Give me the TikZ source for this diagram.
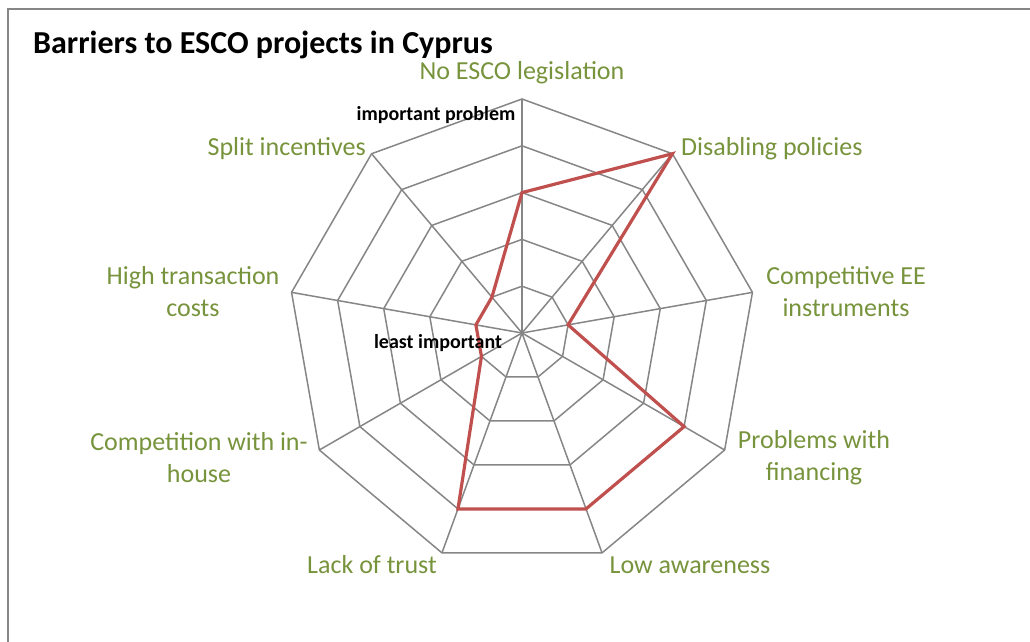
\documentclass[tikz,border=0pt]{standalone}
\usepackage{fontspec}
\setmainfont{Carlito}
\definecolor{gridgray}{RGB}{134,134,134}
\definecolor{seriesred}{RGB}{192,80,77}
\definecolor{labelgreen}{RGB}{119,147,60}
\tikzset{
  axislabel/.style={text=labelgreen,font=\fontsize{26}{32}\selectfont,align=center,inner sep=0pt},
  levellabel/.style={font=\bfseries\fontsize{20}{24}\selectfont,inner sep=0pt},
}
\begin{document}
\begin{tikzpicture}[x=1pt,y=1pt]
      \def\r{234};
      \useasboundingbox (-522,-309) rectangle (508,333);
      \draw[gridgray,line width=1.5pt] (-514,-309) -- (-514,324) -- (508,324);
      % spokes and rings
      \foreach \k in {0,...,8}
        \coordinate (v\k) at ({90-40*\k}:\r);
      \foreach \k in {0,...,8}
        \draw[gridgray,line width=1.5pt] (0,0) -- (v\k);
      \foreach \l in {1,...,5}
        \draw[gridgray,line width=1.5pt] (90:{\r*\l/5}) \foreach \k in {1,...,8} {-- ({90-40*\k}:{\r*\l/5})} -- cycle;
      % series
      \draw[seriesred,line width=3.2pt] (90:{\r*3/5}) -- (50:\r) -- (10:{\r/5}) -- (-30:{\r*4/5}) -- (-70:{\r*4/5})
        -- (-110:{\r*4/5}) -- (-150:{\r/5}) -- (-190:{\r/5}) -- (-230:{\r/5}) -- cycle;
      \node[anchor=west,font=\bfseries\fontsize{32}{38}\selectfont,inner sep=0pt] (title) at (-489,288) {Barriers to ESCO projects in Cyprus};
      \node[axislabel] (legislation) at (0,260) {No ESCO legislation};
      \node[axislabel,anchor=west] (policies) at (159,184) {Disabling policies};
      \node[axislabel] (instruments) at (324,41) {Competitive EE\\instruments};
      \node[axislabel] (financing) at (292,-125) {Problems with\\financing};
      \node[axislabel] (awareness) at (168,-232) {Low awareness};
      \node[axislabel] (trust) at (-150,-232) {Lack of trust};
      \node[axislabel] (inhouse) at (-323,-125) {Competition with in-\\house};
      \node[axislabel] (transaction) at (-329,41) {High transaction\\costs};
      \node[axislabel,anchor=east] (incentives) at (-156,184) {Split incentives};
      \node[levellabel] (important) at (-86,218) {important problem};
      \node[levellabel] (least) at (-84,-10) {least important};
\end{tikzpicture}
\end{document}
